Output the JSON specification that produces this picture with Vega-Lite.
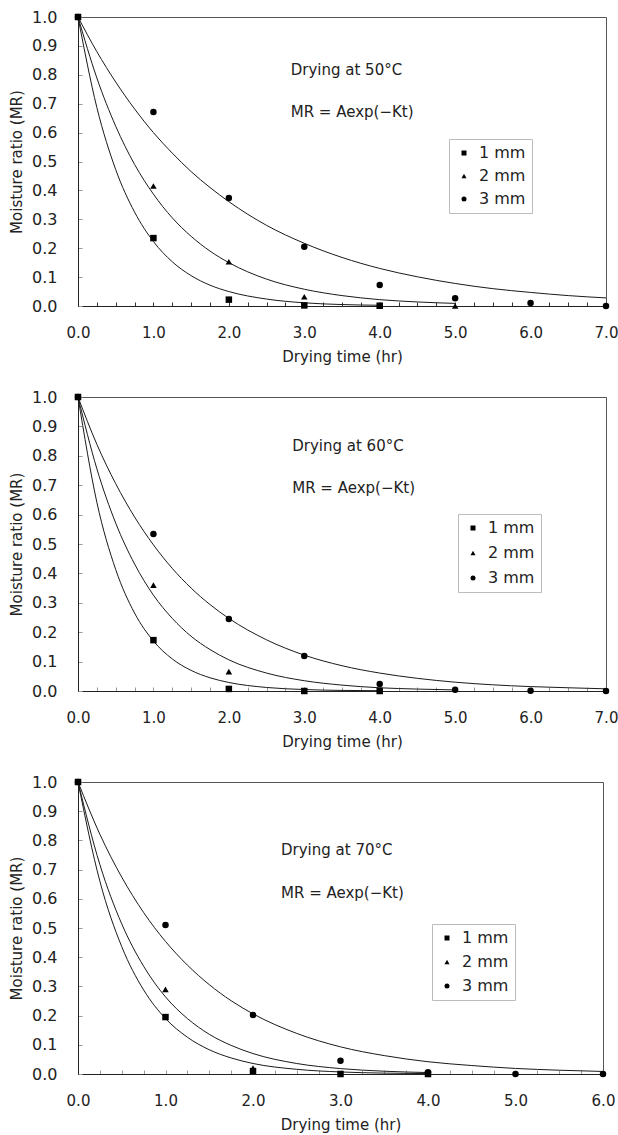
{
  "$schema": "https://vega.github.io/schema/vega-lite/v6.json",
  "background": "white",
  "padding": {"left": 9, "top": 8, "right": 0, "bottom": 5},
  "spacing": 23,
  "datasets": {
    "pts50": [
      {"s": "1 mm", "t": 0, "mr": 1.0}, {"s": "1 mm", "t": 1, "mr": 0.235}, {"s": "1 mm", "t": 2, "mr": 0.022}, {"s": "1 mm", "t": 3, "mr": 0.002}, {"s": "1 mm", "t": 4, "mr": 0.001},
      {"s": "2 mm", "t": 0, "mr": 1.0}, {"s": "2 mm", "t": 1, "mr": 0.415}, {"s": "2 mm", "t": 2, "mr": 0.153}, {"s": "2 mm", "t": 3, "mr": 0.032}, {"s": "2 mm", "t": 4, "mr": 0.002}, {"s": "2 mm", "t": 5, "mr": 0.0},
      {"s": "3 mm", "t": 0, "mr": 1.0}, {"s": "3 mm", "t": 1, "mr": 0.671}, {"s": "3 mm", "t": 2, "mr": 0.374}, {"s": "3 mm", "t": 3, "mr": 0.205}, {"s": "3 mm", "t": 4, "mr": 0.073}, {"s": "3 mm", "t": 5, "mr": 0.027}, {"s": "3 mm", "t": 6, "mr": 0.01}, {"s": "3 mm", "t": 7, "mr": 0.0}
    ],
    "fit50": [
      {"s": "3 mm", "t": 0, "mr": 1}, {"s": "3 mm", "t": 0.25, "mr": 0.88}, {"s": "3 mm", "t": 0.5, "mr": 0.775}, {"s": "3 mm", "t": 0.75, "mr": 0.682}, {"s": "3 mm", "t": 1, "mr": 0.6}, {"s": "3 mm", "t": 1.25, "mr": 0.529}, {"s": "3 mm", "t": 1.5, "mr": 0.465}, {"s": "3 mm", "t": 1.75, "mr": 0.41}, {"s": "3 mm", "t": 2, "mr": 0.361}, {"s": "3 mm", "t": 2.5, "mr": 0.279}, {"s": "3 mm", "t": 3, "mr": 0.217}, {"s": "3 mm", "t": 3.5, "mr": 0.168}, {"s": "3 mm", "t": 4, "mr": 0.13}, {"s": "3 mm", "t": 4.5, "mr": 0.101}, {"s": "3 mm", "t": 5, "mr": 0.078}, {"s": "3 mm", "t": 5.5, "mr": 0.06}, {"s": "3 mm", "t": 6, "mr": 0.047}, {"s": "3 mm", "t": 6.5, "mr": 0.036}, {"s": "3 mm", "t": 7, "mr": 0.028},
      {"s": "2 mm", "t": 0, "mr": 1}, {"s": "2 mm", "t": 0.25, "mr": 0.789}, {"s": "2 mm", "t": 0.5, "mr": 0.622}, {"s": "2 mm", "t": 0.75, "mr": 0.49}, {"s": "2 mm", "t": 1, "mr": 0.387}, {"s": "2 mm", "t": 1.25, "mr": 0.305}, {"s": "2 mm", "t": 1.5, "mr": 0.241}, {"s": "2 mm", "t": 1.75, "mr": 0.19}, {"s": "2 mm", "t": 2, "mr": 0.15}, {"s": "2 mm", "t": 2.5, "mr": 0.093}, {"s": "2 mm", "t": 3, "mr": 0.058}, {"s": "2 mm", "t": 3.5, "mr": 0.036}, {"s": "2 mm", "t": 4, "mr": 0.022}, {"s": "2 mm", "t": 4.5, "mr": 0.014}, {"s": "2 mm", "t": 5, "mr": 0.009},
      {"s": "1 mm", "t": 0, "mr": 1}, {"s": "1 mm", "t": 0.25, "mr": 0.687}, {"s": "1 mm", "t": 0.5, "mr": 0.472}, {"s": "1 mm", "t": 0.75, "mr": 0.325}, {"s": "1 mm", "t": 1, "mr": 0.223}, {"s": "1 mm", "t": 1.25, "mr": 0.153}, {"s": "1 mm", "t": 1.5, "mr": 0.105}, {"s": "1 mm", "t": 1.75, "mr": 0.072}, {"s": "1 mm", "t": 2, "mr": 0.05}, {"s": "1 mm", "t": 2.5, "mr": 0.024}, {"s": "1 mm", "t": 3, "mr": 0.011}, {"s": "1 mm", "t": 3.5, "mr": 0.005}, {"s": "1 mm", "t": 4, "mr": 0.0025}
    ],
    "pts60": [
      {"s": "1 mm", "t": 0, "mr": 1.0}, {"s": "1 mm", "t": 1, "mr": 0.173}, {"s": "1 mm", "t": 2, "mr": 0.007}, {"s": "1 mm", "t": 3, "mr": 0.0}, {"s": "1 mm", "t": 4, "mr": 0.0},
      {"s": "2 mm", "t": 0, "mr": 1.0}, {"s": "2 mm", "t": 1, "mr": 0.36}, {"s": "2 mm", "t": 2, "mr": 0.066}, {"s": "2 mm", "t": 3, "mr": 0.002},
      {"s": "3 mm", "t": 0, "mr": 1.0}, {"s": "3 mm", "t": 1, "mr": 0.534}, {"s": "3 mm", "t": 2, "mr": 0.245}, {"s": "3 mm", "t": 3, "mr": 0.119}, {"s": "3 mm", "t": 4, "mr": 0.024}, {"s": "3 mm", "t": 5, "mr": 0.004}, {"s": "3 mm", "t": 6, "mr": 0.001}, {"s": "3 mm", "t": 7, "mr": 0.0}
    ],
    "fit60": [
      {"s": "3 mm", "t": 0, "mr": 1}, {"s": "3 mm", "t": 0.25, "mr": 0.839}, {"s": "3 mm", "t": 0.5, "mr": 0.705}, {"s": "3 mm", "t": 0.75, "mr": 0.592}, {"s": "3 mm", "t": 1, "mr": 0.497}, {"s": "3 mm", "t": 1.25, "mr": 0.417}, {"s": "3 mm", "t": 1.5, "mr": 0.35}, {"s": "3 mm", "t": 1.75, "mr": 0.294}, {"s": "3 mm", "t": 2, "mr": 0.247}, {"s": "3 mm", "t": 2.5, "mr": 0.174}, {"s": "3 mm", "t": 3, "mr": 0.122}, {"s": "3 mm", "t": 3.5, "mr": 0.086}, {"s": "3 mm", "t": 4, "mr": 0.061}, {"s": "3 mm", "t": 4.5, "mr": 0.043}, {"s": "3 mm", "t": 5, "mr": 0.03}, {"s": "3 mm", "t": 5.5, "mr": 0.021}, {"s": "3 mm", "t": 6, "mr": 0.015}, {"s": "3 mm", "t": 6.5, "mr": 0.011}, {"s": "3 mm", "t": 7, "mr": 0.0074},
      {"s": "2 mm", "t": 0, "mr": 1}, {"s": "2 mm", "t": 0.25, "mr": 0.756}, {"s": "2 mm", "t": 0.5, "mr": 0.571}, {"s": "2 mm", "t": 0.75, "mr": 0.432}, {"s": "2 mm", "t": 1, "mr": 0.326}, {"s": "2 mm", "t": 1.25, "mr": 0.247}, {"s": "2 mm", "t": 1.5, "mr": 0.186}, {"s": "2 mm", "t": 1.75, "mr": 0.141}, {"s": "2 mm", "t": 2, "mr": 0.106}, {"s": "2 mm", "t": 2.5, "mr": 0.061}, {"s": "2 mm", "t": 3, "mr": 0.035}, {"s": "2 mm", "t": 3.5, "mr": 0.02}, {"s": "2 mm", "t": 4, "mr": 0.011}, {"s": "2 mm", "t": 4.5, "mr": 0.0065}, {"s": "2 mm", "t": 5, "mr": 0.0037},
      {"s": "1 mm", "t": 0, "mr": 1}, {"s": "1 mm", "t": 0.25, "mr": 0.642}, {"s": "1 mm", "t": 0.5, "mr": 0.413}, {"s": "1 mm", "t": 0.75, "mr": 0.265}, {"s": "1 mm", "t": 1, "mr": 0.17}, {"s": "1 mm", "t": 1.25, "mr": 0.109}, {"s": "1 mm", "t": 1.5, "mr": 0.07}, {"s": "1 mm", "t": 1.75, "mr": 0.045}, {"s": "1 mm", "t": 2, "mr": 0.029}, {"s": "1 mm", "t": 2.5, "mr": 0.012}, {"s": "1 mm", "t": 3, "mr": 0.005}, {"s": "1 mm", "t": 3.5, "mr": 0.002}, {"s": "1 mm", "t": 4, "mr": 0.001}
    ],
    "pts70": [
      {"s": "1 mm", "t": 0, "mr": 1.0}, {"s": "1 mm", "t": 1, "mr": 0.195}, {"s": "1 mm", "t": 2, "mr": 0.01}, {"s": "1 mm", "t": 3, "mr": 0.0}, {"s": "1 mm", "t": 4, "mr": 0.0},
      {"s": "2 mm", "t": 0, "mr": 1.0}, {"s": "2 mm", "t": 1, "mr": 0.29}, {"s": "2 mm", "t": 2, "mr": 0.02},
      {"s": "3 mm", "t": 0, "mr": 1.0}, {"s": "3 mm", "t": 1, "mr": 0.51}, {"s": "3 mm", "t": 2, "mr": 0.202}, {"s": "3 mm", "t": 3, "mr": 0.045}, {"s": "3 mm", "t": 4, "mr": 0.006}, {"s": "3 mm", "t": 5, "mr": 0.0}, {"s": "3 mm", "t": 6, "mr": 0.0}
    ],
    "fit70": [
      {"s": "3 mm", "t": 0, "mr": 1}, {"s": "3 mm", "t": 0.25, "mr": 0.821}, {"s": "3 mm", "t": 0.5, "mr": 0.674}, {"s": "3 mm", "t": 0.75, "mr": 0.553}, {"s": "3 mm", "t": 1, "mr": 0.454}, {"s": "3 mm", "t": 1.25, "mr": 0.373}, {"s": "3 mm", "t": 1.5, "mr": 0.306}, {"s": "3 mm", "t": 1.75, "mr": 0.251}, {"s": "3 mm", "t": 2, "mr": 0.206}, {"s": "3 mm", "t": 2.5, "mr": 0.139}, {"s": "3 mm", "t": 3, "mr": 0.093}, {"s": "3 mm", "t": 3.5, "mr": 0.063}, {"s": "3 mm", "t": 4, "mr": 0.042}, {"s": "3 mm", "t": 4.5, "mr": 0.029}, {"s": "3 mm", "t": 5, "mr": 0.019}, {"s": "3 mm", "t": 5.5, "mr": 0.013}, {"s": "3 mm", "t": 6, "mr": 0.0087},
      {"s": "2 mm", "t": 0, "mr": 1}, {"s": "2 mm", "t": 0.25, "mr": 0.717}, {"s": "2 mm", "t": 0.5, "mr": 0.514}, {"s": "2 mm", "t": 0.75, "mr": 0.369}, {"s": "2 mm", "t": 1, "mr": 0.264}, {"s": "2 mm", "t": 1.25, "mr": 0.19}, {"s": "2 mm", "t": 1.5, "mr": 0.136}, {"s": "2 mm", "t": 1.75, "mr": 0.098}, {"s": "2 mm", "t": 2, "mr": 0.07}, {"s": "2 mm", "t": 2.5, "mr": 0.036}, {"s": "2 mm", "t": 3, "mr": 0.0185}, {"s": "2 mm", "t": 3.5, "mr": 0.0095}, {"s": "2 mm", "t": 4, "mr": 0.005},
      {"s": "1 mm", "t": 0, "mr": 1}, {"s": "1 mm", "t": 0.25, "mr": 0.66}, {"s": "1 mm", "t": 0.5, "mr": 0.436}, {"s": "1 mm", "t": 0.75, "mr": 0.288}, {"s": "1 mm", "t": 1, "mr": 0.19}, {"s": "1 mm", "t": 1.25, "mr": 0.126}, {"s": "1 mm", "t": 1.5, "mr": 0.083}, {"s": "1 mm", "t": 1.75, "mr": 0.055}, {"s": "1 mm", "t": 2, "mr": 0.036}, {"s": "1 mm", "t": 2.5, "mr": 0.016}, {"s": "1 mm", "t": 3, "mr": 0.007}, {"s": "1 mm", "t": 3.5, "mr": 0.003}, {"s": "1 mm", "t": 4, "mr": 0.0013}
    ]
  },
  "vconcat": [
    {
      "width": 528, "height": 289,
      "encoding": {
        "x": {"field": "t", "type": "quantitative", "scale": {"domain": [0, 7], "nice": false, "zero": false},
              "axis": {"title": "Drying time (hr)", "values": [0,0.25,0.5,0.75,1,1.25,1.5,1.75,2,2.25,2.5,2.75,3,3.25,3.5,3.75,4,4.25,4.5,4.75,5,5.25,5.5,5.75,6,6.25,6.5,6.75,7], "labelExpr": "datum.value % 1 == 0 ? format(datum.value, '.1f') : ''", "labelOverlap": "greedy", "tickColor": "#333"}},
        "y": {"field": "mr", "type": "quantitative", "scale": {"domain": [0, 1], "nice": false},
              "axis": {"title": "Moisture ratio (MR)", "values": [0,0.1,0.2,0.3,0.4,0.5,0.6,0.7,0.8,0.9,1], "format": ".1f", "labelOverlap": "greedy"}}
      },
      "layer": [
        {"data": {"name": "fit50"}, "mark": {"type": "line", "color": "#1a1a1a", "strokeWidth": 1, "interpolate": "monotone"},
         "encoding": {"detail": {"field": "s"}}},
        {"data": {"name": "pts50"}, "mark": {"type": "point", "filled": true, "color": "black", "opacity": 1, "size": 42},
         "encoding": {
           "shape": {"field": "s", "type": "nominal", "scale": {"domain": ["1 mm", "2 mm", "3 mm"], "range": ["square", "triangle-up", "circle"]},
                     "legend": {"orient": "none", "legendX": 371, "legendY": 122, "rowPadding": 7}}
         }},
        {"data": {"values": [{"t": 2.82, "mr": 0.817, "label": "Drying at 50°C"}, {"t": 2.82, "mr": 0.671, "label": "MR = Aexp(−Kt)"}]},
         "mark": {"type": "text", "align": "left", "baseline": "middle", "fontSize": 15, "color": "#222"},
         "encoding": {"text": {"field": "label"}}}
      ]
    },
    {
      "width": 528, "height": 294,
      "encoding": {
        "x": {"field": "t", "type": "quantitative", "scale": {"domain": [0, 7], "nice": false, "zero": false},
              "axis": {"title": "Drying time (hr)", "values": [0,0.25,0.5,0.75,1,1.25,1.5,1.75,2,2.25,2.5,2.75,3,3.25,3.5,3.75,4,4.25,4.5,4.75,5,5.25,5.5,5.75,6,6.25,6.5,6.75,7], "labelExpr": "datum.value % 1 == 0 ? format(datum.value, '.1f') : ''", "labelOverlap": "greedy"}},
        "y": {"field": "mr", "type": "quantitative", "scale": {"domain": [0, 1], "nice": false},
              "axis": {"title": "Moisture ratio (MR)", "values": [0,0.1,0.2,0.3,0.4,0.5,0.6,0.7,0.8,0.9,1], "format": ".1f", "labelOverlap": "greedy"}}
      },
      "layer": [
        {"data": {"name": "fit60"}, "mark": {"type": "line", "color": "#1a1a1a", "strokeWidth": 1, "interpolate": "monotone"},
         "encoding": {"detail": {"field": "s"}}},
        {"data": {"name": "pts60"}, "mark": {"type": "point", "filled": true, "color": "black", "opacity": 1, "size": 42},
         "encoding": {
           "shape": {"field": "s", "type": "nominal", "scale": {"domain": ["1 mm", "2 mm", "3 mm"], "range": ["square", "triangle-up", "circle"]},
                     "legend": {"orient": "none", "legendX": 380, "legendY": 117, "rowPadding": 9}}
         }},
        {"data": {"values": [{"t": 2.84, "mr": 0.833, "label": "Drying at 60°C"}, {"t": 2.84, "mr": 0.69, "label": "MR = Aexp(−Kt)"}]},
         "mark": {"type": "text", "align": "left", "baseline": "middle", "fontSize": 15, "color": "#222"},
         "encoding": {"text": {"field": "label"}}}
      ]
    },
    {
      "width": 525, "height": 292,
      "encoding": {
        "x": {"field": "t", "type": "quantitative", "scale": {"domain": [0, 6], "nice": false, "zero": false},
              "axis": {"title": "Drying time (hr)", "values": [0,0.25,0.5,0.75,1,1.25,1.5,1.75,2,2.25,2.5,2.75,3,3.25,3.5,3.75,4,4.25,4.5,4.75,5,5.25,5.5,5.75,6], "labelExpr": "datum.value % 1 == 0 ? format(datum.value, '.1f') : ''", "labelOverlap": "greedy"}},
        "y": {"field": "mr", "type": "quantitative", "scale": {"domain": [0, 1], "nice": false},
              "axis": {"title": "Moisture ratio (MR)", "values": [0,0.1,0.2,0.3,0.4,0.5,0.6,0.7,0.8,0.9,1], "format": ".1f", "labelOverlap": "greedy"}}
      },
      "layer": [
        {"data": {"name": "fit70"}, "mark": {"type": "line", "color": "#1a1a1a", "strokeWidth": 1, "interpolate": "monotone"},
         "encoding": {"detail": {"field": "s"}}},
        {"data": {"name": "pts70"}, "mark": {"type": "point", "filled": true, "color": "black", "opacity": 1, "size": 42},
         "encoding": {
           "shape": {"field": "s", "type": "nominal", "scale": {"domain": ["1 mm", "2 mm", "3 mm"], "range": ["square", "triangle-up", "circle"]},
                     "legend": {"orient": "none", "legendX": 354, "legendY": 142, "rowPadding": 8}}
         }},
        {"data": {"values": [{"t": 2.32, "mr": 0.767, "label": "Drying at 70°C"}, {"t": 2.32, "mr": 0.62, "label": "MR = Aexp(−Kt)"}]},
         "mark": {"type": "text", "align": "left", "baseline": "middle", "fontSize": 15, "color": "#222"},
         "encoding": {"text": {"field": "label"}}}
      ]
    }
  ],
  "resolve": {"scale": {"x": "independent", "y": "independent", "shape": "independent"}, "legend": {"shape": "independent"}},
  "config": {
    "font": "DejaVu Sans",
    "view": {"stroke": "#555", "strokeWidth": 1},
    "axis": {"grid": false, "domainColor": "#222", "domainWidth": 1, "tickColor": "#999", "tickSize": -4, "tickWidth": 1,
             "labelFont": "DejaVu Sans", "labelFontSize": 16, "labelColor": "#222", "labelFlush": false,
             "titleFont": "DejaVu Sans", "titleFontSize": 15, "titleFontWeight": "normal", "titleColor": "#222"},
    "axisX": {"labelPadding": 23, "titlePadding": 9, "labelFontSize": 15},
    "axisY": {"labelPadding": 25, "titlePadding": 7},
    "legend": {"title": null, "strokeColor": "#bbb", "fillColor": "white", "padding": 6, "labelFontSize": 16, "labelColor": "#222",
               "labelFont": "DejaVu Sans", "symbolSize": 25, "symbolFillColor": "black", "symbolStrokeColor": "black", "symbolStrokeWidth": 0, "labelOffset": 7, "symbolOffset": 1}
  }
}
